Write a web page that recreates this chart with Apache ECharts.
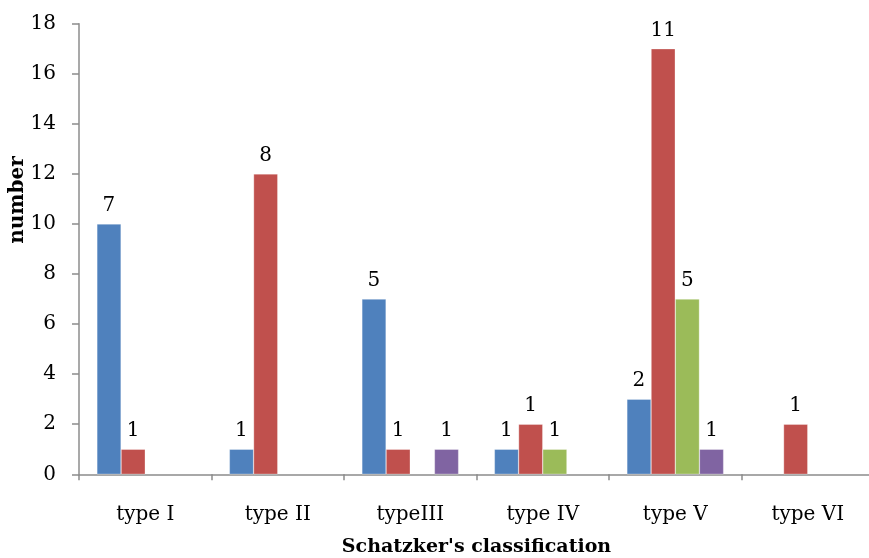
<!DOCTYPE html>
<html><head><meta charset="utf-8">
<script src="https://cdn.jsdelivr.net/npm/echarts@6/dist/echarts.min.js"></script>
<style>html,body{margin:0;padding:0;background:#fff}#c{width:869px;height:558px}</style>
</head><body><div id="c"></div>
<script>
const categories = ['type I', 'type II', 'typeIII', 'type IV', 'type V', 'type VI'];
const blueValues   = [10, 1, 7, 1, 3, null];
const redValues    = [1, 12, 1, 2, 17, 2];
const greenValues  = [null, null, null, 1, 7, null];
const purpleValues = [null, null, 1, null, 1, null];
const blueLabels   = ['7', '1', '5', '1', '2', ''];
const redLabels    = ['1', '8', '1', '1', '11', '1'];
const greenLabels  = ['', '', '', '1', '5', ''];
const purpleLabels = ['', '', '1', '', '1', ''];
const yTicks = [0, 2, 4, 6, 8, 10, 12, 14, 16, 18];

const FONT = '"DejaVu Serif", "Liberation Serif", serif';
const chart = echarts.init(document.getElementById('c'));
function mk(name, data, labels, color) {
  return {
    name, type: 'bar', data, barGap: '0%', barCategoryGap: '27%',
    itemStyle: { color, borderColor: 'rgba(255,255,255,0.6)', borderWidth: 0.5 },
    label: {
      show: true, position: 'top', distance: 8,
      fontFamily: FONT, fontSize: 20, color: '#000',
      formatter: p => labels[p.dataIndex]
    },
    animation: false
  };
}
chart.setOption({
  animation: false,
  grid: { left: 79, right: -5, top: 23.7, bottom: 83.7, containLabel: false, outerBoundsMode: 'none' },
  xAxis: {
    type: 'category', data: categories,
    axisLine: { lineStyle: { color: '#8c8c8c', width: 1.5 } },
    axisTick: { show: true, length: 6, lineStyle: { color: '#8c8c8c', width: 1.5 } },
    axisLabel: { fontFamily: FONT, fontSize: 20, color: '#000', margin: 30 },
    name: "Schatzker's classification", nameLocation: 'middle', nameGap: 63,
    nameTextStyle: { fontFamily: FONT, fontSize: 19, fontWeight: 'bold', color: '#000' }
  },
  yAxis: {
    type: 'value', min: yTicks[0], max: yTicks[yTicks.length - 1], interval: 2,
    splitLine: { show: false },
    axisLine: { show: true, lineStyle: { color: '#8c8c8c', width: 1.5 } },
    axisTick: { show: true, length: 7, lineStyle: { color: '#8c8c8c', width: 1.5 } },
    axisLabel: { fontFamily: FONT, fontSize: 20, color: '#000', margin: 23 }
  },
  graphic: [{
    type: 'text', x: 18, y: 200, rotation: Math.PI / 2,
    style: { text: 'number', font: 'bold 20px ' + FONT, fill: '#000', align: 'center', verticalAlign: 'middle' }
  }],
  series: [
    mk('s1', blueValues, blueLabels, '#4F81BD'),
    mk('s2', redValues, redLabels, '#C0504D'),
    mk('s3', greenValues, greenLabels, '#9BBB59'),
    mk('s4', purpleValues, purpleLabels, '#8064A2')
  ]
});
</script></body></html>
